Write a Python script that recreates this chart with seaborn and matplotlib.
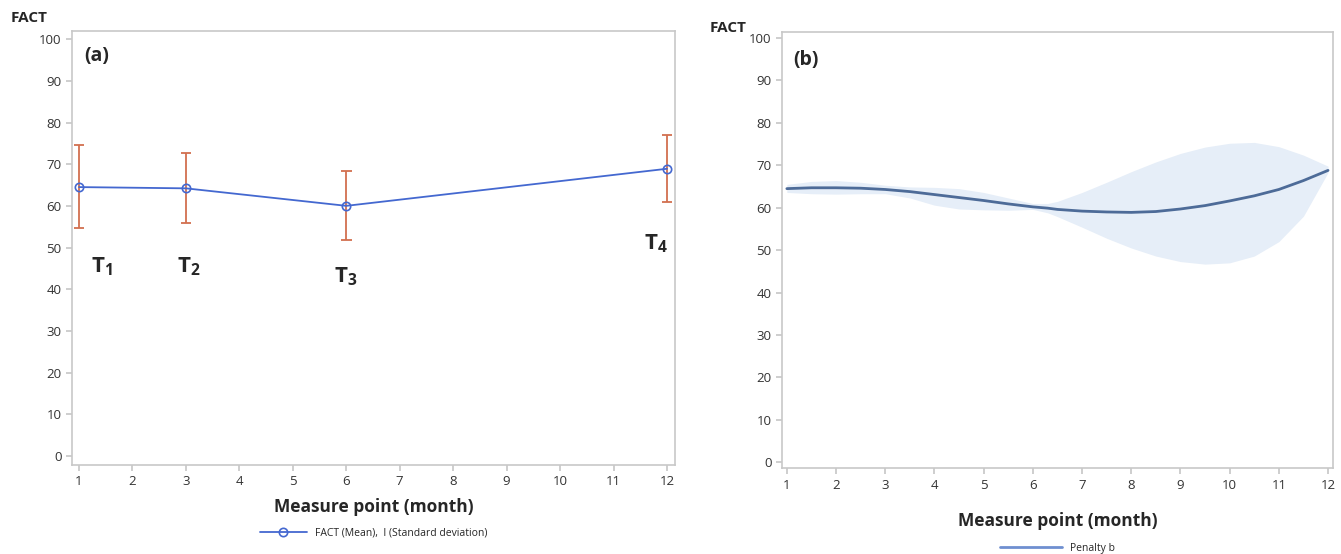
import numpy as np
import pandas as pd
import seaborn as sns
import matplotlib.pyplot as plt

# --------- data ---------
# panel (a): mean FACT and SD bounds at the four measure points
months_a = [1, 3, 6, 12]
fact_mean = [64.5, 64.2, 60.0, 68.9]
fact_upper = [74.5, 72.6, 68.3, 77.0]
fact_lower = [54.7, 55.8, 51.7, 61.0]
point_labels = ["T_1", "T_2", "T_3", "T_4"]
label_x = [1.42, 3.05, 5.98, 11.8]
label_y = [45.5, 45.5, 43.0, 51.0]

# panel (b): penalised spline fit with confidence band
months_b = [1, 1.5, 2, 2.5, 3, 3.5, 4, 4.5, 5, 5.5, 6, 6.3, 6.5, 7, 7.5, 8,
            8.5, 9, 9.5, 10, 10.5, 11, 11.5, 12]
fit_b = [64.5, 64.7, 64.7, 64.6, 64.3, 63.8, 63.1, 62.4, 61.7, 60.9, 60.2, 59.9,
         59.6, 59.2, 59.0, 58.9, 59.1, 59.7, 60.5, 61.6, 62.8, 64.3, 66.4, 68.8]
upper_b = [65.5, 66.2, 66.4, 66.0, 65.3, 64.9, 64.8, 64.5, 63.6, 62.3, 61.0, 61.0,
           61.5, 63.6, 66.0, 68.5, 70.8, 72.8, 74.3, 75.2, 75.4, 74.4, 72.4, 69.8]
lower_b = [63.6, 63.3, 63.2, 63.3, 63.3, 62.3, 60.6, 59.7, 59.5, 59.4, 59.6, 58.8,
           57.9, 55.4, 52.8, 50.5, 48.6, 47.3, 46.7, 47.0, 48.6, 52.0, 58.0, 68.3]

df_a = pd.DataFrame({"month": months_a, "fact": fact_mean})
df_b = pd.DataFrame({"month": months_b, "fact": fit_b})

sns.set_theme(style="ticks")
plt.rcParams["font.family"] = ["Open Sans", "DejaVu Sans"]
plt.rcParams["mathtext.fontset"] = "custom"
plt.rcParams["mathtext.rm"] = "Open Sans"
plt.rcParams["mathtext.bf"] = "Open Sans:bold"

fig = plt.figure(figsize=(13.41, 5.54), dpi=100)
ax_a = fig.add_axes([0.0537, 0.1606, 0.4497, 0.783])
ax_b = fig.add_axes([0.5831, 0.155, 0.4109, 0.787])

blue = "#4468d0"
err_col = "#d2704f"
steel = "#4d6b98"
band = "#e6eef8"
spine_col = "#c8c8c8"

# --------- panel (a) ---------
ax_a.vlines(months_a, fact_lower, fact_upper, color=err_col, lw=1.3, zorder=2)
ax_a.hlines(fact_upper, np.array(months_a) - 0.1, np.array(months_a) + 0.1, color=err_col, lw=1.3)
ax_a.hlines(fact_lower, np.array(months_a) - 0.1, np.array(months_a) + 0.1, color=err_col, lw=1.3)
sns.lineplot(data=df_a, x="month", y="fact", ax=ax_a, color=blue, lw=1.3,
             marker="o", markersize=6, markerfacecolor="none", markeredgecolor=blue,
             markeredgewidth=1.2, zorder=3, label="FACT (Mean),  I (Standard deviation)")
for lx, ly, lab in zip(label_x, label_y, point_labels):
    ax_a.text(lx, ly, f"$\\mathbf{{{lab}}}$", fontsize=16, ha="center", va="center")
ax_a.set_xlim(0.87, 12.15)
ax_a.set_ylim(-2.2, 101.9)
ax_a.text(0.02, 0.965, "(a)", transform=ax_a.transAxes, fontsize=14, fontweight="bold",
          va="top", ha="left")
fig.text(0.008, 0.968, "FACT", fontsize=11, fontweight="bold", ha="left", va="center")
ax_a.legend(loc="upper center", bbox_to_anchor=(0.5, -0.122), frameon=False,
            fontsize=7.5, handlelength=4.5)

# --------- panel (b) ---------
ax_b.fill_between(months_b, lower_b, upper_b, color=band, lw=0, zorder=1)
sns.lineplot(data=df_b, x="month", y="fact", ax=ax_b, color=steel, lw=2.0, zorder=3,
             label="Penalty b")
ax_b.set_xlim(0.9, 12.1)
ax_b.set_ylim(-1.4, 101.4)
ax_b.text(0.02, 0.96, "(b)", transform=ax_b.transAxes, fontsize=14, fontweight="bold",
          va="top", ha="left")
fig.text(0.529, 0.95, "FACT", fontsize=11, fontweight="bold", ha="left", va="center")
leg = ax_b.legend(loc="upper center", bbox_to_anchor=(0.5, -0.15), frameon=False,
                  fontsize=7.5, handlelength=6)
for h in leg.get_lines():
    h.set_color("#6f8fd0")

for ax in (ax_a, ax_b):
    ax.set_xticks(range(1, 13))
    ax.set_yticks(range(0, 101, 10))
    ax.tick_params(labelsize=9.5, length=4, color=spine_col, colors="#333333")
    for s in ax.spines.values():
        s.set_visible(True)
        s.set_color(spine_col)
        s.set_linewidth(1.2)
    ax.set_ylabel("")
    ax.set_xlabel("Measure point (month)", fontsize=12.5, fontweight="bold")
ax_a.xaxis.labelpad = 7
ax_b.xaxis.labelpad = 15

plt.savefig("out.png", dpi=100)
